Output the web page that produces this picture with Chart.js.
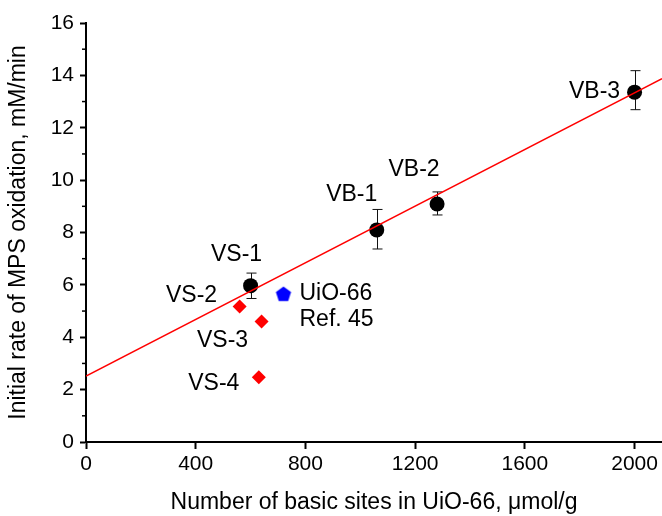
<!DOCTYPE html>
<html>
<head>
<meta charset="utf-8">
<script src="https://cdn.jsdelivr.net/npm/chart.js@4/dist/chart.umd.min.js"></script>
<style>
  html, body { margin: 0; padding: 0; background: #fff; }
  #wrap { width: 662px; height: 516px; }
</style>
</head>
<body>
<div id="wrap"><canvas id="myChart"></canvas></div>
<script>
// black circles: samples with error bars
const seriesNames = ['VS-1', 'VB-1', 'VB-2', 'VB-3']
const seriesX = [600, 1060, 1280, 2000]
const seriesY = [5.97, 8.10, 9.09, 13.36]
const seriesLow = [5.48, 7.37, 8.67, 12.69]
const seriesHigh = [6.45, 8.88, 9.55, 14.18]

// red diamonds
const diamondNames = ['VS-2', 'VS-3', 'VS-4']
const diamondX = [560, 640, 630]
const diamondY = [5.17, 4.60, 2.47]

// blue pentagon (literature value)
const refNames = ['UiO-66', 'Ref. 45']
const refX = [720]
const refY = [5.66]

// linear fit, end points
const fitX = [0, 2100]
const fitY = [2.52, 13.87]

const xTicks = [0, 400, 800, 1200, 1600, 2000]
const yTicks = [0, 2, 4, 6, 8, 10, 12, 14, 16]
const yMinorTicks = [1, 3, 5, 7, 9, 11, 13, 15]

// label placement in pixels relative to the marker (layout only)
const labelOffsets = {
    'VS-1': [-14, -31, 'center'],
    'VB-1': [-25, -35, 'center'],
    'VB-2': [-23, -34, 'center'],
    'VB-3': [-40, 0, 'center'],
    'VS-2': [-48, -11, 'center'],
    'VS-3': [-39, 19, 'center'],
    'VS-4': [-45, 6, 'center'],
    'UiO-66': [16, 0, 'left'],
    'Ref. 45': [16, 26, 'left'],
}

const FONT = '"Liberation Sans", Arial, sans-serif'
const ctx = document.getElementById('myChart')

const makePentagon = () => {
    const c = document.createElement('canvas')
    c.width = 18
    c.height = 18
    const g = c.getContext('2d')
    const R = 8
    g.beginPath()
    for (let i = 0; i < 5; i++) {
        const a = -Math.PI / 2 + i * 2 * Math.PI / 5
        const px = 9 + R * Math.cos(a)
        const py = 9.8 + R * Math.sin(a)
        if (i === 0) g.moveTo(px, py)
        else g.lineTo(px, py)
    }
    g.closePath()
    g.fillStyle = '#0000ff'
    g.fill()
    return c
}

const errorBars = {
    id: 'errorBars',
    beforeDatasetsDraw(chart) {
        const { ctx, scales: { x, y } } = chart
        ctx.save()
        ctx.strokeStyle = '#111'
        ctx.lineWidth = 1
        seriesX.forEach((v, i) => {
            const px = Math.round(x.getPixelForValue(v)) + 0.5
            const top = y.getPixelForValue(seriesHigh[i])
            const bot = y.getPixelForValue(seriesLow[i])
            ctx.beginPath()
            ctx.moveTo(px, top)
            ctx.lineTo(px, bot)
            ctx.moveTo(px - 5, top)
            ctx.lineTo(px + 5, top)
            ctx.moveTo(px - 5, bot)
            ctx.lineTo(px + 5, bot)
            ctx.stroke()
        })
        ctx.restore()
    },
}

const minorTicks = {
    id: 'minorTicks',
    afterDraw(chart) {
        const { ctx, scales: { y }, chartArea } = chart
        ctx.save()
        ctx.strokeStyle = '#000'
        ctx.lineWidth = 1.5
        yMinorTicks.forEach((v) => {
            const py = y.getPixelForValue(v)
            ctx.beginPath()
            ctx.moveTo(chartArea.left - 4, py)
            ctx.lineTo(chartArea.left, py)
            ctx.stroke()
        })
        ctx.restore()
    },
}

const pointLabels = {
    id: 'pointLabels',
    afterDatasetsDraw(chart) {
        const { ctx, scales: { x, y } } = chart
        ctx.save()
        ctx.fillStyle = '#000'
        ctx.font = `23px ${FONT}`
        ctx.textBaseline = 'middle'
        const put = (name, vx, vy) => {
            const [dx, dy, align] = labelOffsets[name]
            ctx.textAlign = align
            ctx.fillText(name, x.getPixelForValue(vx) + dx, y.getPixelForValue(vy) + dy)
        }
        seriesNames.forEach((n, i) => put(n, seriesX[i], seriesY[i]))
        diamondNames.forEach((n, i) => put(n, diamondX[i], diamondY[i]))
        refNames.forEach((n) => put(n, refX[0], refY[0]))
        ctx.restore()
    },
}

const toPoints = (xs, ys) => xs.map((v, i) => ({ x: v, y: ys[i] }))

const config = {
    type: 'scatter',
    data: {
        datasets: [
            {
                type: 'line',
                label: 'Fit',
                data: toPoints(fitX, fitY),
                borderColor: '#ff0000',
                borderWidth: 1.5,
                pointRadius: 0,
                fill: false,
            },
            {
                label: 'VS-1, VB',
                data: toPoints(seriesX, seriesY),
                backgroundColor: '#000',
                borderColor: '#000',
                pointRadius: 7.5,
                borderWidth: 0,
            },
            {
                label: 'VS-2..4',
                data: toPoints(diamondX, diamondY),
                backgroundColor: '#ff0000',
                borderColor: '#ff0000',
                pointStyle: 'rectRot',
                pointRadius: 7,
                borderWidth: 0,
            },
            {
                label: 'UiO-66 Ref. 45',
                data: toPoints(refX, refY),
                pointStyle: makePentagon(),
            },
        ],
    },
    options: {
        responsive: true,
        maintainAspectRatio: false,
        animation: false,
        layout: { autoPadding: false, padding: { top: 23, right: 0, left: 0, bottom: 0 } },
        plugins: {
            legend: { display: false },
            tooltip: { enabled: false },
        },
        scales: {
            x: {
                type: 'linear',
                min: 0,
                max: 2100,
                afterFit: (s) => {
                    s.height = 74
                    s.paddingLeft = 0
                    s.paddingRight = 0
                },
                afterBuildTicks: (s) => { s.ticks = xTicks.map((v) => ({ value: v })) },
                border: { color: '#000', width: 2 },
                grid: { drawOnChartArea: false, tickLength: 7, tickColor: '#000', tickWidth: 2 },
                ticks: {
                    color: '#000',
                    font: { family: FONT, size: 21 },
                    padding: 3,
                    maxRotation: 0,
                    callback: (v) => String(v),
                },
                title: {
                    display: true,
                    text: 'Number of basic sites in UiO-66, μmol/g',
                    color: '#000',
                    font: { family: FONT, size: 23 },
                    padding: { top: 0, bottom: 0 },
                },
            },
            y: {
                min: 0,
                max: 16,
                afterFit: (s) => {
                    s.width = 86
                    s.paddingTop = 0
                    s.paddingBottom = 0
                },
                afterBuildTicks: (s) => { s.ticks = yTicks.map((v) => ({ value: v })) },
                border: { color: '#000', width: 2 },
                grid: { drawOnChartArea: false, tickLength: 6, tickColor: '#000', tickWidth: 2 },
                ticks: {
                    color: '#000',
                    font: { family: FONT, size: 21 },
                    padding: 6,
                    callback: (v) => String(v),
                },
                title: {
                    display: true,
                    text: 'Initial rate of MPS oxidation, mM/min',
                    color: '#000',
                    font: { family: FONT, size: 23 },
                    padding: { top: 5, bottom: 0 },
                },
            },
        },
    },
    plugins: [errorBars, minorTicks, pointLabels],
}

new Chart(ctx, config)
</script>
</body>
</html>
